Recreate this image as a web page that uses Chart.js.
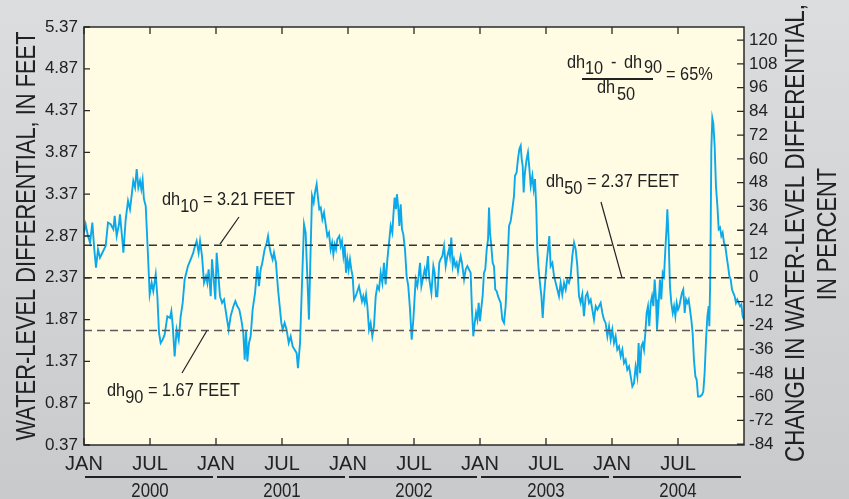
<!DOCTYPE html>
<html>
<head>
<meta charset="utf-8">
<script src="https://cdn.jsdelivr.net/npm/chart.js@4.4.1/dist/chart.umd.min.js"></script>
<style>
  html, body { margin: 0; padding: 0; }
  body { width: 849px; height: 499px; overflow: hidden; background: linear-gradient(#dcdddf, #c9cacc); }
  canvas { display: block; }
</style>
</head>
<body>
<canvas id="chart" width="849" height="499"></canvas>
<script>
const FONT = "'Liberation Sans', Arial, sans-serif";
const INK = '#222';

// axis ticks
const feetTicks = [0.37, 0.87, 1.37, 1.87, 2.37, 2.87, 3.37, 3.87, 4.37, 4.87, 5.37];
const pctTicks = [-84, -72, -60, -48, -36, -24, -12, 0, 12, 24, 36, 48, 60, 72, 84, 96, 108, 120];
const monthTicks = [0, 6, 12, 18, 24, 30, 36, 42, 48, 54];
const monthNames = ['JAN', 'JUL'];
const years = ['2000', '2001', '2002', '2003', '2004'];

// dashed reference levels (left axis, feet): dh10, dh50, dh90
const dh50 = 2.37;
const refLevels = [2.76, 2.37, 1.74];
const refColors = ['#333', '#333', '#5a5a5a'];

// [months since Jan 2000, water-level differential in feet]
const obs2000 = [[0,2.91],[0.15,3.01],[0.36,2.87],[0.55,2.79],[0.76,3.03],[0.91,2.75],[1.09,2.49],[1.27,2.71],[1.45,2.61],[1.67,2.67],
  [1.97,2.75],[2.18,3.03],[2.42,3.01],[2.67,2.95],[2.79,3.11],[2.97,2.87],[3.18,3.01],[3.27,3.13],[3.48,2.83],[3.58,2.67],
  [3.79,3.07],[4.0,3.29],[4.18,3.19],[4.30,3.32],[4.48,3.53],[4.64,3.45],[4.79,3.67],[4.94,3.45],[5.09,3.53],[5.21,3.43],
  [5.33,3.54],[5.45,3.31],[5.61,3.23],[5.82,2.63],[5.97,2.17],[6.15,2.31],[6.30,2.21],[6.52,2.41],[6.67,2.15],[6.82,1.71],
  [6.97,1.59],[7.15,1.63],[7.33,1.69],[7.58,1.91],[7.82,1.89],[7.94,1.97],[8.06,1.81],[8.24,1.43],[8.42,1.75],[8.61,1.63],
  [8.79,1.91],[8.97,2.07],[9.15,2.35],[9.45,2.51],[9.70,2.59],[9.94,2.67],[10.0,2.71],[10.24,2.81],[10.42,2.67],[10.55,2.81],
  [10.73,2.63],[10.91,2.31],[11.09,2.39],[11.21,2.31],[11.33,2.47],[11.52,2.15],[11.64,2.59],[11.82,2.31],[11.94,2.11]];
const obs2001 = [[12.06,2.67],[12.18,2.47],[12.36,2.15],[12.55,2.07],[12.73,2.11],[12.91,1.95],[13.15,1.75],[13.33,1.91],[13.58,2.03],[13.76,2.09],
  [13.94,2.03],[14.12,1.99],[14.30,1.87],[14.48,1.71],[14.61,1.39],[14.73,1.73],[14.85,1.37],[15.0,1.59],[15.15,1.67],[15.33,1.99],
  [15.55,2.19],[15.76,2.51],[15.91,2.27],[16.06,2.47],[16.21,2.55],[16.42,2.71],[16.61,2.79],[16.73,2.87],[16.85,2.75],[16.97,2.67],
  [17.15,2.59],[17.27,2.67],[17.45,2.55],[17.64,2.23],[17.76,2.07],[17.94,1.83],[18.06,1.75],[18.24,1.83],[18.42,1.75],[18.61,1.59],
  [18.79,1.67],[18.97,1.55],[19.15,1.51],[19.33,1.47],[19.45,1.29],[19.64,1.59],[19.82,2.31],[20.0,3.01],[20.15,2.91],[20.30,2.39],
  [20.45,1.87],[20.58,2.59],[20.73,3.35],[20.88,3.27],[21.0,3.39],[21.15,3.49],[21.27,3.33],[21.39,3.19],[21.52,3.21],[21.67,3.07],
  [21.82,3.15],[21.97,3.01],[22.12,2.87],[22.27,2.91],[22.42,2.71],[22.55,2.79],[22.67,2.65],[22.79,2.77],[22.91,2.71],[23.03,2.83],
  [23.21,2.87],[23.33,2.75],[23.45,2.81],[23.58,2.63],[23.70,2.75],[23.82,2.43],[23.94,2.59]];
const obs2002 = [[24.06,2.47],[24.18,2.59],[24.30,2.47],[24.42,2.39],[24.55,2.11],[24.70,2.15],[24.85,2.21],[25.0,2.27],[25.15,2.17],[25.27,2.09],
  [25.39,2.15],[25.52,2.07],[25.64,2.17],[25.76,2.03],[25.91,1.75],[26.06,1.83],[26.21,1.67],[26.36,1.79],[26.52,2.15],[26.67,2.27],
  [26.82,2.23],[26.97,2.43],[27.12,2.31],[27.27,2.55],[27.42,2.29],[27.58,2.59],[27.73,2.79],[27.88,2.99],[28.03,2.91],[28.12,3.11],
  [28.24,3.33],[28.36,3.19],[28.45,3.37],[28.58,3.19],[28.67,2.99],[28.79,3.25],[28.91,2.95],[29.03,2.89],[29.18,2.71],[29.33,2.39],
  [29.48,2.27],[29.64,1.99],[29.79,1.63],[29.94,1.87],[30.15,2.35],[30.30,2.27],[30.42,2.39],[30.55,2.55],[30.67,2.27],[30.79,2.35],
  [30.97,2.47],[31.09,2.39],[31.27,2.63],[31.39,2.35],[31.58,2.19],[31.76,2.51],[31.88,2.43],[32.0,2.15],[32.12,2.15],[32.30,2.55],
  [32.42,2.59],[32.58,2.63],[32.73,2.75],[32.88,2.51],[33.03,2.63],[33.18,2.71],[33.27,2.63],[33.39,2.85],[33.52,2.51],[33.64,2.59],
  [33.76,2.51],[33.88,2.55],[34.0,2.45],[34.12,2.55],[34.24,2.63],[34.36,2.55],[34.55,2.35],[34.70,2.47],[34.85,2.51],[35.0,2.47],
  [35.15,2.43],[35.27,1.99],[35.39,1.67],[35.52,1.83],[35.64,1.95],[35.76,1.87],[35.88,2.07]];
const obs2003 = [[36.0,1.85],[36.12,2.01],[36.24,2.15],[36.36,2.43],[36.48,2.47],[36.61,2.71],[36.73,2.83],[36.82,3.21],[36.91,2.91],[37.03,2.75],
  [37.15,2.55],[37.27,2.51],[37.39,2.23],[37.52,2.21],[37.64,2.15],[37.76,2.11],[37.88,2.07],[38.03,1.87],[38.18,1.83],[38.33,2.03],
  [38.48,2.47],[38.64,2.99],[38.79,3.05],[38.94,3.19],[39.09,3.35],[39.18,3.59],[39.33,3.63],[39.45,3.79],[39.58,3.91],[39.70,3.95],
  [39.79,3.79],[39.88,3.71],[39.97,3.39],[40.06,3.59],[40.12,3.67],[40.24,3.79],[40.36,3.87],[40.48,3.69],[40.61,3.47],[40.76,3.59],
  [40.88,3.43],[41.0,3.55],[41.12,3.19],[41.21,2.71],[41.33,2.47],[41.45,2.31],[41.58,2.15],[41.70,1.89],[41.82,2.15],[41.94,2.35],
  [42.06,2.55],[42.18,2.71],[42.30,2.87],[42.42,2.51],[42.58,2.55],[42.73,2.39],[42.88,2.31],[43.03,2.23],[43.18,2.15],[43.33,2.31],
  [43.48,2.17],[43.64,2.31],[43.79,2.23],[43.94,2.35],[44.09,2.31],[44.24,2.39],[44.39,2.63],[44.55,2.79],[44.70,2.71],[44.85,2.51],
  [45.0,2.15],[45.15,2.07],[45.30,2.17],[45.45,1.91],[45.61,2.15],[45.76,2.19],[45.91,2.07],[46.06,2.11],[46.21,1.99],[46.36,1.87],
  [46.52,2.03],[46.67,1.99],[46.82,2.03],[46.97,2.07],[47.12,1.95],[47.27,1.87],[47.42,1.83],[47.58,1.67],[47.73,1.79],[47.88,1.63]];
const obs2004 = [[48.03,1.75],[48.18,1.59],[48.33,1.67],[48.48,1.51],[48.64,1.55],[48.79,1.43],[48.94,1.51],[49.09,1.35],[49.24,1.39],[49.39,1.27],
  [49.55,1.31],[49.70,1.19],[49.85,1.07],[50.0,1.11],[50.15,1.31],[50.30,1.19],[50.42,1.59],[50.55,1.23],[50.67,1.55],[50.79,1.59],
  [50.91,1.51],[51.03,1.71],[51.15,1.95],[51.27,2.03],[51.39,1.79],[51.52,2.07],[51.64,2.15],[51.76,2.03],[51.88,2.35],[52.0,2.11],
  [52.09,1.75],[52.21,1.99],[52.36,2.35],[52.48,2.11],[52.61,2.43],[52.73,2.39],[52.85,2.71],[52.97,2.99],[53.03,3.19],[53.15,2.83],
  [53.27,2.27],[53.39,2.07],[53.52,1.95],[53.64,2.03],[53.76,1.91],[53.88,2.07],[54.0,1.99],[54.12,2.03],[54.24,2.11],[54.36,2.19],
  [54.48,2.23],[54.61,1.95],[54.73,2.11],[54.85,2.07],[54.97,2.11],[55.09,1.99],[55.21,1.87],[55.33,1.71],[55.45,1.39],[55.58,1.19],
  [55.70,1.15],[55.82,0.95],[56.0,0.95],[56.18,0.97],[56.30,1.01],[56.42,1.23],[56.55,1.63],[56.67,1.91],[56.79,2.03],[56.85,1.79],
  [56.94,2.43],[57.03,3.91],[57.12,4.28],[57.21,4.22],[57.33,3.95],[57.45,3.47],[57.58,3.23],[57.70,2.95],[57.82,2.97],[57.94,2.87],
  [58.06,2.91],[58.18,2.79],[58.30,2.75],[58.42,2.63],[58.55,2.51],[58.67,2.39],[58.79,2.35],[58.91,2.23],[59.03,2.19],[59.15,2.15],
  [59.27,2.07],[59.39,2.11],[59.52,2.07],[59.64,2.03],[59.76,2.05],[59.88,1.91],[60.0,1.87]];

const series = [...obs2000, ...obs2001, ...obs2002, ...obs2003, ...obs2004].map(([m, f]) => ({ x: m, y: f }));

const feetMin = feetTicks[0], feetMax = feetTicks[feetTicks.length - 1];
const toPct = f => (f / dh50 - 1) * 100;

// condensed-looking text: draw Liberation Sans squeezed horizontally
function ctext(ctx, t, x, y, k, align) {
  ctx.save();
  ctx.translate(x, y);
  ctx.scale(k, 1);
  ctx.textAlign = align || 'left';
  ctx.fillText(t, 0, 0);
  ctx.restore();
  return ctx.measureText(t).width * k;
}

function subText(ctx, parts, x, y, k) {
  parts.forEach(([t, dy]) => { x += ctext(ctx, t, x, y + dy, k); });
}

function vtext(ctx, t, x, y, k) {
  ctx.save();
  ctx.translate(x, y);
  ctx.rotate(-Math.PI / 2);
  ctx.scale(k, 1);
  ctx.textAlign = 'center';
  ctx.fillText(t, 0, 0);
  ctx.restore();
}

function line(ctx, x1, y1, x2, y2) {
  ctx.beginPath(); ctx.moveTo(x1, y1); ctx.lineTo(x2, y2); ctx.stroke();
}

const decor = {
  id: 'decor',
  beforeDraw(chart) {
    const { ctx, chartArea: a } = chart;
    ctx.save();
    ctx.fillStyle = '#fffce3';
    ctx.fillRect(a.left, a.top, a.right - a.left, a.bottom - a.top);
    ctx.restore();
  },
  afterDraw(chart) {
    const { ctx, chartArea: a, scales } = chart;
    const xs = scales.x, ys = scales.y, y2 = scales.y2;
    ctx.save();
    ctx.strokeStyle = '#2a2a2a';
    ctx.lineWidth = 1.5;
    ctx.strokeRect(a.left, a.top, a.right - a.left, a.bottom - a.top);

    // inward tick marks
    ctx.lineWidth = 1.3;
    ctx.beginPath();
    monthTicks.forEach(m => {
      const x = xs.getPixelForValue(m);
      ctx.moveTo(x, a.top); ctx.lineTo(x, a.top + 7);
      ctx.moveTo(x, a.bottom); ctx.lineTo(x, a.bottom - 7);
    });
    feetTicks.forEach(v => { const y = ys.getPixelForValue(v); ctx.moveTo(a.left, y); ctx.lineTo(a.left + 6, y); });
    pctTicks.forEach(v => { const y = y2.getPixelForValue(v); ctx.moveTo(a.right, y); ctx.lineTo(a.right - 7, y); });
    ctx.stroke();

    // year bars and labels
    ctx.fillStyle = INK;
    ctx.strokeStyle = '#222';
    ctx.lineWidth = 2;
    ctx.font = `21px ${FONT}`;
    years.forEach((yr, i) => {
      const x0 = xs.getPixelForValue(i * 12) + 1, x1 = xs.getPixelForValue(i * 12 + 12) - 3;
      line(ctx, x0, 477, x1, 477);
      ctext(ctx, yr, (x0 + x1) / 2 + 1, 497, 0.8, 'center');
    });

    // axis titles
    ctx.font = `28px ${FONT}`;
    vtext(ctx, 'WATER-LEVEL DIFFERENTIAL, IN FEET', 35, 236, 0.78);
    vtext(ctx, 'CHANGE IN WATER-LEVEL DIFFERENTIAL,', 804, 233, 0.8);
    vtext(ctx, 'IN PERCENT', 836, 234, 0.78);

    // dh annotations
    const K = 0.86;
    ctx.font = `19px ${FONT}`;
    subText(ctx, [['dh', 0], ['10', 7], [' = 3.21 FEET', 0]], 162, 205, K);
    subText(ctx, [['dh', 0], ['90', 7], [' = 1.67 FEET', 0]], 107, 396, K);
    subText(ctx, [['dh', 0], ['50', 7], [' = 2.37 FEET', 0]], 546, 187, K);
    ctx.lineWidth = 1.2;
    line(ctx, 239, 217, 220, ys.getPixelForValue(refLevels[0]) - 1);
    line(ctx, 182, 373, 207, ys.getPixelForValue(refLevels[2]));
    line(ctx, 601, 202, 622, ys.getPixelForValue(refLevels[1]));

    // ratio formula
    ctext(ctx, 'dh', 567, 68, K);
    ctext(ctx, '10', 585, 74, K);
    ctext(ctx, '-', 611, 68, K);
    ctext(ctx, 'dh', 624, 68, K);
    ctext(ctx, '90', 644, 73, K);
    ctext(ctx, '= 65%', 666, 80, K);
    ctext(ctx, 'dh', 597, 93, K);
    ctext(ctx, '50', 617, 100, K);
    ctx.lineWidth = 2;
    line(ctx, 582, 79, 653, 79);
    ctx.restore();
  }
};

const datasets = refLevels.map((lvl, i) => ({
  data: [{ x: 0, y: lvl }, { x: 60, y: lvl }],
  borderColor: refColors[i], borderWidth: 1.4, borderDash: [8, 5],
  pointRadius: 0, yAxisID: 'y', order: 0
}));
datasets.push({
  data: series, borderColor: '#0ca9ea', borderWidth: 1.9,
  pointRadius: 0, tension: 0, yAxisID: 'y', order: 1
});

new Chart(document.getElementById('chart'), {
  type: 'line',
  data: { datasets },
  options: {
    responsive: false,
    animation: false,
    layout: { padding: { top: 27, left: 0, right: 0, bottom: 0 } },
    plugins: { legend: { display: false }, tooltip: { enabled: false } },
    scales: {
      x: {
        type: 'linear', min: 0, max: 60,
        grid: { display: false, drawTicks: false }, border: { display: false },
        afterBuildTicks: s => { s.ticks = monthTicks.map(v => ({ value: v })); },
        afterFit: s => { s.height = 54; },
        ticks: { autoSkip: false, maxRotation: 0, padding: 7, color: INK,
          font: { family: FONT, size: 20 }, callback: v => monthNames[(v / 6) % 2] }
      },
      y: {
        type: 'linear', position: 'left', min: feetMin, max: feetMax,
        grid: { display: false, drawTicks: false }, border: { display: false },
        afterBuildTicks: s => { s.ticks = feetTicks.map(v => ({ value: v })); },
        afterFit: s => { s.width = 84; },
        ticks: { autoSkip: false, padding: 6, color: INK, font: { family: FONT, size: 17 },
          callback: v => v.toFixed(2) }
      },
      y2: {
        type: 'linear', position: 'right', min: toPct(feetMin), max: toPct(feetMax),
        grid: { display: false, drawTicks: false }, border: { display: false },
        afterBuildTicks: s => { s.ticks = pctTicks.map(v => ({ value: v })); },
        afterFit: s => { s.width = 105; },
        ticks: { autoSkip: false, padding: 5, color: INK, font: { family: FONT, size: 17 },
          callback: v => String(v) }
      }
    }
  },
  plugins: [decor]
});
</script>
</body>
</html>
